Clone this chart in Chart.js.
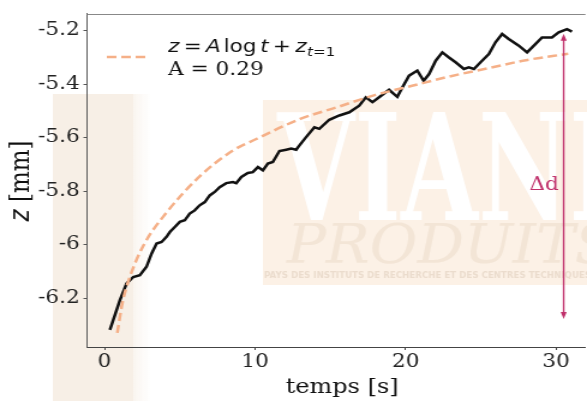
<!DOCTYPE html>
<html>
<head>
<meta charset="utf-8">
<script src="https://cdn.jsdelivr.net/npm/chart.js@4.4.1/dist/chart.umd.min.js"></script>
<style>
    html, body { margin: 0; padding: 0; background: #fff; overflow: hidden; }
    /* the source figure is stretched horizontally, so the whole chart is too */
    #wrap { width: 489px; height: 401px; transform: scaleX(1.2004); transform-origin: 0 0; }
</style>
</head>
<body>
<div id="wrap"><canvas id="myChart"></canvas></div>
<script>
// measured trace (time in s, height in mm)
const tData = [0.36, 1.03, 1.47, 1.91, 2.35, 2.79, 3.13, 3.46, 3.79, 4.12, 4.34, 4.67, 5.00, 5.33, 5.66, 5.99,
    6.32, 6.66, 6.99, 7.32, 7.65, 8.09, 8.53, 8.75, 9.09, 9.52, 9.85, 10.19, 10.52, 10.85, 11.18, 11.62,
    12.07, 12.40, 12.73, 12.95, 13.39, 13.94, 14.27, 14.93, 15.60, 16.26, 16.92, 17.36, 17.80, 18.24, 18.90,
    19.45, 19.79, 20.23, 20.78, 21.20, 21.56, 22.00, 22.44, 22.88, 23.32, 23.87, 24.20, 24.54, 24.98, 25.53,
    25.97, 26.41, 26.85, 27.52, 28.07, 28.62, 29.06, 29.72, 30.17, 30.72, 31.05];
const zData = [-6.319, -6.207, -6.145, -6.121, -6.114, -6.083, -6.033, -5.996, -5.990, -5.971, -5.953, -5.934,
    -5.915, -5.909, -5.884, -5.872, -5.853, -5.841, -5.816, -5.803, -5.785, -5.770, -5.766, -5.770, -5.747,
    -5.732, -5.729, -5.710, -5.722, -5.697, -5.691, -5.650, -5.645, -5.641, -5.645, -5.629, -5.598, -5.561,
    -5.567, -5.533, -5.517, -5.505, -5.480, -5.449, -5.467, -5.449, -5.421, -5.447, -5.411, -5.368, -5.349,
    -5.387, -5.362, -5.312, -5.281, -5.300, -5.318, -5.343, -5.337, -5.343, -5.318, -5.287, -5.243, -5.212,
    -5.231, -5.256, -5.281, -5.250, -5.225, -5.225, -5.206, -5.194, -5.203];

// log fit
const tFit = [0.85, 1.2, 1.69, 2.57, 4.12, 6.32, 8.53, 10.08, 13, 15.5, 18, 20.5, 23, 25.5, 28, 30.8];
const zFit = [-6.33, -6.215, -6.12, -6.005, -5.88, -5.745, -5.648, -5.605, -5.53, -5.485, -5.44, -5.405,
    -5.37, -5.34, -5.31, -5.286];

// delta d arrow
const arrowT = 30.5;
const arrowZ = [-5.211, -6.278];

const xTicks = [0, 10, 20, 30];
const xTickLabels = ['0', '10', '20', '30'];
const yTicks = [-6.2, -6, -5.8, -5.6, -5.4, -5.2];
const yTickLabels = ['-6.2', '-6', '-5.8', '-5.6', '-5.4', '-5.2'];

const fitColor = '#f5b088';
const arrowColor = '#c0306b';

function toPoints(xs, ys) {
    return xs.map((x, i) => ({ x: x, y: ys[i] }));
}

// faded slide background behind the plot
const watermark = {
    id: 'watermark',
    beforeDraw(chart) {
        const ctx = chart.ctx;
        ctx.save();
        ctx.fillStyle = '#f7efe6';
        ctx.fillRect(44, 94, 67, 307);
        const g = ctx.createLinearGradient(111, 0, 126, 0);
        g.addColorStop(0, 'rgba(247,239,230,0.6)');
        g.addColorStop(1, 'rgba(247,239,230,0)');
        ctx.fillStyle = g;
        ctx.fillRect(111, 94, 15, 307);

        ctx.fillStyle = '#fcf1e6';
        ctx.fillRect(219, 100, 270, 185);

        ctx.save();
        ctx.translate(231, 220);
        ctx.scale(0.56, 1);
        ctx.font = 'bold 148px "DejaVu Serif"';
        ctx.fillStyle = '#ffffff';
        ctx.fillText('VIANDES', 0, 0);
        ctx.restore();

        ctx.save();
        ctx.translate(239, 263);
        ctx.scale(0.88, 1);
        ctx.font = 'italic 55px "DejaVu Serif"';
        ctx.fillStyle = 'rgba(232,214,195,0.45)';
        ctx.fillText('PRODUITS', 0, 0);
        ctx.restore();

        ctx.save();
        ctx.translate(220, 278);
        ctx.scale(0.8, 1);
        ctx.font = 'bold 9px "DejaVu Sans"';
        ctx.fillStyle = 'rgba(215,195,175,0.45)';
        ctx.fillText('PAYS DES INSTITUTS DE RECHERCHE ET DES CENTRES TECHNIQUES', 0, 0);
        ctx.restore();
        ctx.restore();
    }
};

const decorations = {
    id: 'decorations',
    afterDraw(chart) {
        const ctx = chart.ctx;
        const area = chart.chartArea;
        const xs = chart.scales.x;
        const ys = chart.scales.y;
        ctx.save();

        // top spine
        ctx.strokeStyle = '#888';
        ctx.lineWidth = 1;
        ctx.beginPath();
        ctx.moveTo(area.left, Math.round(area.top) + 0.5);
        ctx.lineTo(area.right, Math.round(area.top) + 0.5);
        ctx.stroke();

        // delta d arrow
        const ax = xs.getPixelForValue(arrowT);
        const y1 = ys.getPixelForValue(arrowZ[0]);
        const y2 = ys.getPixelForValue(arrowZ[1]);
        ctx.strokeStyle = arrowColor;
        ctx.fillStyle = arrowColor;
        ctx.lineWidth = 1.4;
        ctx.beginPath();
        ctx.moveTo(ax, y1 + 4);
        ctx.lineTo(ax, y2 - 4);
        ctx.stroke();
        ctx.beginPath();
        ctx.moveTo(ax, y1); ctx.lineTo(ax - 2.5, y1 + 7); ctx.lineTo(ax + 2.5, y1 + 7); ctx.closePath();
        ctx.fill();
        ctx.beginPath();
        ctx.moveTo(ax, y2); ctx.lineTo(ax - 2.5, y2 - 7); ctx.lineTo(ax + 2.5, y2 - 7); ctx.closePath();
        ctx.fill();
        ctx.font = '18px "DejaVu Serif"';
        ctx.textAlign = 'right';
        ctx.textBaseline = 'alphabetic';
        ctx.fillText('\u0394d', ax - 4, 190);

        // legend
        ctx.strokeStyle = fitColor;
        ctx.lineWidth = 2.5;
        ctx.setLineDash([8, 4]);
        ctx.beginPath();
        ctx.moveTo(89, 57);
        ctx.lineTo(121, 57);
        ctx.stroke();
        ctx.setLineDash([]);

        ctx.fillStyle = '#111';
        ctx.textAlign = 'left';
        const it = 'italic 18px "DejaVu Sans"';
        const up = '18px "DejaVu Sans"';
        const itS = 'italic 12.6px "DejaVu Sans"';
        const upS = '12.6px "DejaVu Sans"';
        const pieces = [
            { t: 'z', f: it, sp: 3.5 }, { t: '=', f: up, sp: 3.5 }, { t: 'A', f: it, sp: 2.5 },
            { t: 'log', f: up, sp: 3 }, { t: 't', f: it, sp: 3.5 }, { t: '+', f: up, sp: 3.5 },
            { t: 'z', f: it, sp: 0.5 }, { t: 't', f: itS, dy: 4 }, { t: '=', f: upS, dy: 4 },
            { t: '1', f: upS, dy: 4 }
        ];
        let px = 140;
        pieces.forEach(p => {
            ctx.font = p.f;
            ctx.fillText(p.t, px, 52 + (p.dy || 0));
            px += ctx.measureText(p.t).width + (p.sp || 0);
        });
        ctx.font = '18px "DejaVu Serif"';
        ctx.fillText('A = 0.29', 140, 75);

        // axis titles
        ctx.font = '20px "DejaVu Serif"';
        ctx.textAlign = 'center';
        ctx.textBaseline = 'middle';
        ctx.fillText('temps [s]', 285, 388);

        ctx.translate(18.5, 181);
        ctx.rotate(-Math.PI / 2);
        ctx.textAlign = 'left';
        ctx.font = 'italic 23px "DejaVu Sans"';
        const zw = ctx.measureText('z').width;
        ctx.font = '23px "DejaVu Serif"';
        const rest = ' [mm]';
        const rw = ctx.measureText(rest).width;
        const start = -(zw + rw) / 2;
        ctx.font = 'italic 23px "DejaVu Sans"';
        ctx.fillText('z', start, 0);
        ctx.font = '23px "DejaVu Serif"';
        ctx.fillText(rest, start + zw, 0);
        ctx.restore();
    }
};

const ctx = document.getElementById('myChart').getContext('2d');
const tickFont = { family: 'DejaVu Serif', size: 18 };

window.myChart = new Chart(ctx, {
    type: 'line',
    data: {
        datasets: [{
            label: 'fit',
            data: toPoints(tFit, zFit),
            borderColor: fitColor,
            borderWidth: 2.5,
            borderDash: [8, 4],
            pointRadius: 0,
            cubicInterpolationMode: 'monotone',
            fill: false
        }, {
            label: 'z',
            data: toPoints(tData, zData),
            borderColor: '#111',
            borderWidth: 2.5,
            pointRadius: 0,
            tension: 0,
            fill: false
        }]
    },
    options: {
        responsive: true,
        maintainAspectRatio: false,
        animation: false,
        layout: { padding: { top: 13, left: 0, right: 0, bottom: 0 } },
        plugins: { legend: { display: false }, tooltip: { enabled: false } },
        scales: {
            x: {
                type: 'linear',
                min: -1.16,
                max: 31.95,
                afterBuildTicks: s => { s.ticks = xTicks.map(v => ({ value: v })); },
                afterFit: s => { s.height = 54; },
                grid: { drawOnChartArea: false, drawTicks: true, tickLength: 3, color: '#444' },
                border: { color: '#444', width: 1 },
                ticks: { font: tickFont, color: '#222', padding: 2, maxRotation: 0,
                    callback: (v, i) => xTickLabels[i] }
            },
            y: {
                type: 'linear',
                min: -6.383,
                max: -5.1366,
                afterBuildTicks: s => { s.ticks = yTicks.map(v => ({ value: v })); },
                afterFit: s => { s.width = 72.5; },
                grid: { drawOnChartArea: false, drawTicks: true, tickLength: 3, color: '#555' },
                border: { color: '#555', width: 1 },
                ticks: { font: tickFont, color: '#222', padding: 3,
                    callback: (v, i) => yTickLabels[i] }
            }
        }
    },
    plugins: [watermark, decorations]
});
</script>
</body>
</html>
